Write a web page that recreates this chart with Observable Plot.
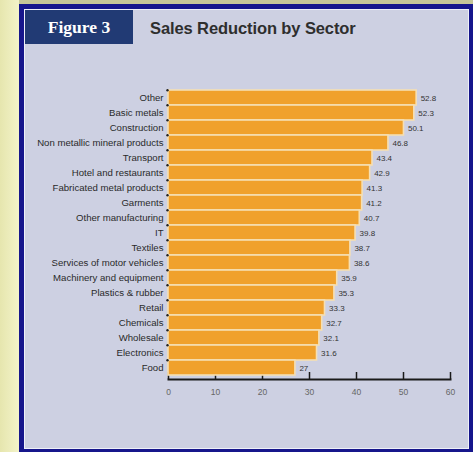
<!DOCTYPE html>
<html>
<head>
<meta charset="utf-8">
<script src="https://cdn.jsdelivr.net/npm/d3@7"></script>
<script src="https://cdn.jsdelivr.net/npm/@observablehq/plot@0.6"></script>
<style>
  html, body { margin: 0; padding: 0; }
  body { width: 473px; height: 452px; overflow: hidden; position: relative; background: #c6c698; font-family: "Liberation Sans", Arial, sans-serif; }
  #strip { position: absolute; left: 0; top: 0; width: 19px; height: 452px; background: linear-gradient(90deg, #e6e6ae, #f3f3c9); }
  #frame { position: absolute; left: 19px; top: 4px; right: 0; bottom: 0; border-left: 5px solid #16168c; border-top: 5px solid #16168c; border-right: 4px solid #16168c; border-bottom: 3px solid #16168c; box-sizing: border-box; background: #cdd0e2; box-shadow: inset 1px 1px 0 #eef0f8, inset -1px -1px 0 #eef0f8; }
  #figbox { position: absolute; left: 25px; top: 10px; width: 108px; height: 34px; background: #213a74; color: #fff; font-family: "Liberation Serif", serif; font-weight: bold; font-size: 17.5px; line-height: 34px; text-align: center; }
  #title { position: absolute; left: 150px; top: 18px; font-weight: bold; font-size: 16.5px; color: #2e2e2e; line-height: 20px; letter-spacing: -0.1px; }
  #chart { position: absolute; left: 0; top: 50px; }
</style>
</head>
<body>
<div id="strip"></div>
<div id="frame"></div>
<div id="figbox">Figure 3</div>
<div id="title">Sales Reduction by Sector</div>
<div id="chart"></div>
<script>
const categories = ["Other","Basic metals","Construction","Non metallic mineral products","Transport","Hotel and restaurants","Fabricated metal products","Garments","Other manufacturing","IT","Textiles","Services of motor vehicles","Machinery and equipment","Plastics & rubber","Retail","Chemicals","Wholesale","Electronics","Food"];
const values = [52.8, 52.3, 50.1, 46.8, 43.4, 42.9, 41.3, 41.2, 40.7, 39.8, 38.7, 38.6, 35.9, 35.3, 33.3, 32.7, 32.1, 31.6, 27];
const xTicks = [0, 10, 20, 30, 40, 50, 60];

const data = categories.map((c, i) => ({sector: c, value: values[i]}));

const chart = Plot.plot({
  width: 473,
  height: 400,
  marginLeft: 168,
  marginRight: 23,
  marginTop: 35,
  marginBottom: 71,
  style: {background: "transparent", fontFamily: "Liberation Sans, Arial, sans-serif"},
  x: {domain: [0, 60], ticks: xTicks},
  y: {domain: categories, padding: 0},
  marks: [
    Plot.ruleX(xTicks, {x: d => d, stroke: "#1a1a1a", strokeWidth: 1.5, insetTop: 287}),
    Plot.barX(data, {x: "value", y: "sector", fill: "#f0a12c", stroke: "#f6dfb2", strokeWidth: 1.6}),
    Plot.frame({anchor: "bottom", stroke: "#1a1a1a", strokeWidth: 2}),
    Plot.dot(categories, {y: d => d, frameAnchor: "left", dx: -1, dy: -7.7, r: 1.2, fill: "#222"}),
    Plot.text(data, {x: "value", y: "sector", text: d => String(d.value), textAnchor: "start", dx: 4, fontSize: 8, fill: "#333"}),
    Plot.axisY({tickSize: 0, tickPadding: 5, fontSize: 9.6, color: "#2a2a2a", label: null}),
    Plot.axisX({ticks: xTicks, tickSize: 0, tickPadding: 9, fontSize: 8.5, color: "#666", label: null})
  ]
});
document.getElementById("chart").appendChild(chart);
</script>
</body>
</html>
